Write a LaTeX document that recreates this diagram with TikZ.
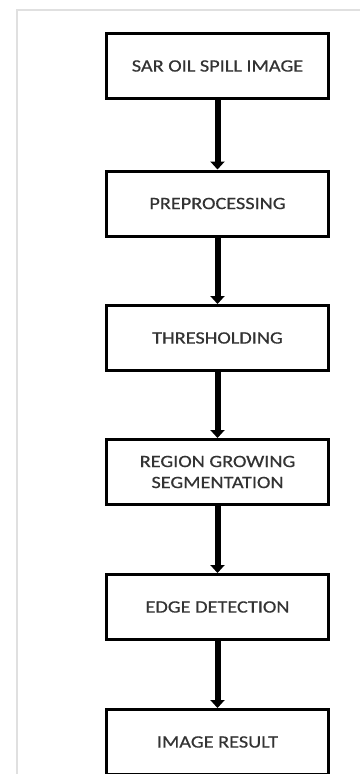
\documentclass[tikz,border=0pt]{standalone}
\usepackage{fontspec}
\setmainfont[FakeStretch=1.17,FakeBold=0.6]{Carlito}
\usetikzlibrary{arrows.meta}

\begin{document}
\begin{tikzpicture}[
  x=0.75pt,y=-0.75pt,
  block/.style={rectangle,draw,line width=2.25pt,minimum width=166.5pt,
    minimum height=48.75pt,inner sep=2pt,align=center,text=black!80,
    font=\fontsize{13}{15.75}\selectfont},
  flow/.style={line width=4.5pt,-{Triangle[width=10.5pt,length=6pt]}}
]
\useasboundingbox (0,0) rectangle (360,774);
\draw[black!12,line width=1pt] (17,774) -- (17,10) -- (360,10);

\node[block] (sar) at (217.5,66) {SAR OIL SPILL IMAGE};
\node[block] (pre) at (217.5,203.5) {PREPROCESSING};
\node[block] (thr) at (217.5,338) {THRESHOLDING};
\node[block] (reg) at (217.5,472) {REGION GROWING\\SEGMENTATION};
\node[block] (edg) at (217.5,607) {EDGE DETECTION};
\node[block] (res) at (217.5,742) {IMAGE RESULT};

\draw[flow] (sar)--(pre);
\draw[flow] (pre)--(thr);
\draw[flow] (thr)--(reg);
\draw[flow] (reg)--(edg);
\draw[flow] (edg)--(res);
\end{tikzpicture}
\end{document}
